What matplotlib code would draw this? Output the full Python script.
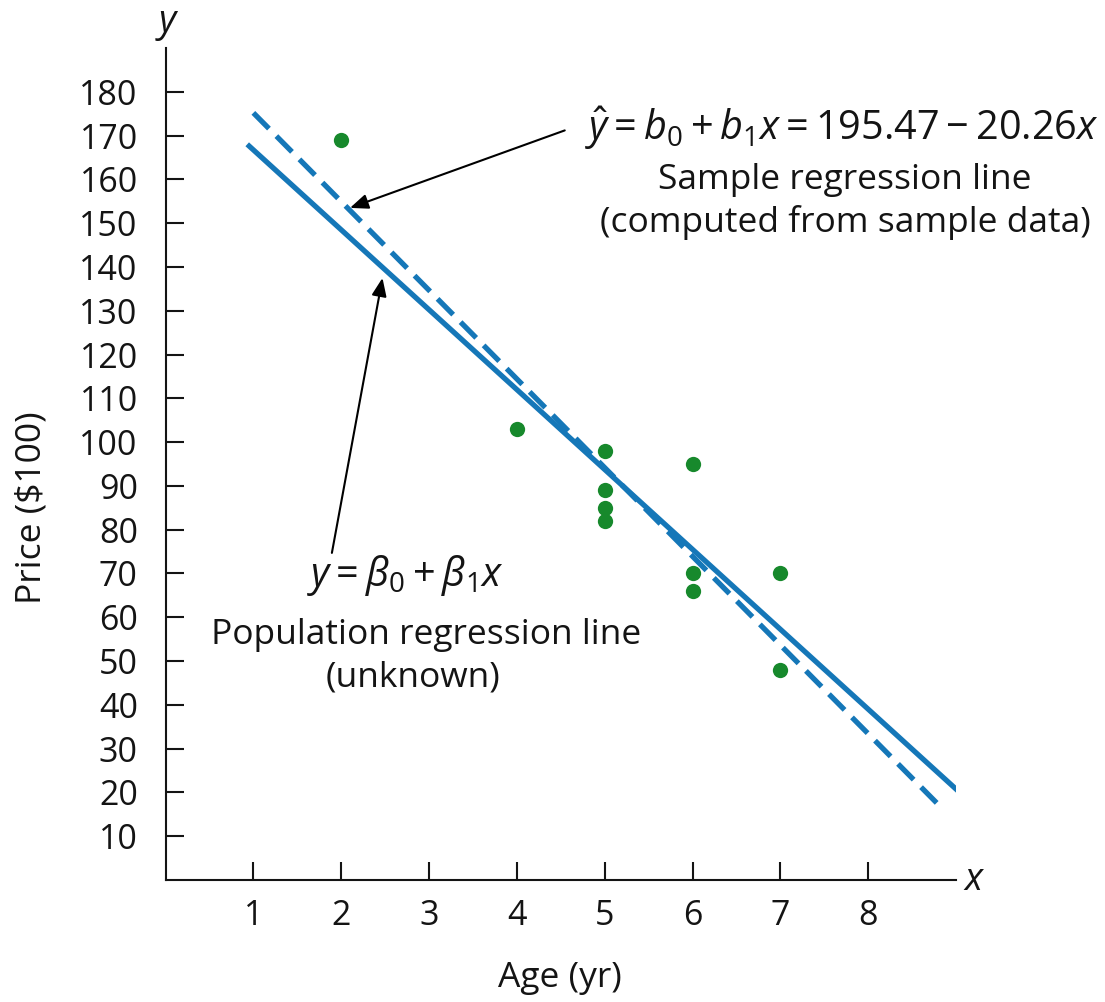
import numpy as np
import matplotlib
matplotlib.use('Agg')
import matplotlib.pyplot as plt

plt.rcParams['font.family'] = ['Open Sans', 'DejaVu Sans']
plt.rcParams['mathtext.fontset'] = 'custom'
plt.rcParams['mathtext.rm'] = 'Open Sans'
plt.rcParams['mathtext.it'] = 'Open Sans:italic'
plt.rcParams['mathtext.bf'] = 'Open Sans:bold'

# Age (yr) and price ($100) of the sampled cars
age = [5, 4, 6, 5, 5, 5, 6, 6, 2, 7, 7]
price = [85, 103, 70, 82, 89, 98, 66, 95, 169, 70, 48]

# Sample regression line (from the data) and an assumed population line
b0, b1 = 195.47, -20.26
beta0, beta1 = 185.0, -18.25
sample_range = [1.0, 8.8]
pop_range = [0.93, 9.03]

x_ticks = [1, 2, 3, 4, 5, 6, 7, 8]
y_ticks = list(range(10, 190, 10))

line_col = '#1577b8'
dot_col = '#17892c'
text_col = '#141414'

fig = plt.figure(figsize=(11.05, 10.02), dpi=100)
ax = fig.add_axes([0.1498, 0.1218, 0.7154, 0.8302])

xs = np.array(pop_range)
ax.plot(xs, beta0 + beta1 * xs, color=line_col, lw=3.8, solid_capstyle='butt', zorder=2)
xs = np.array(sample_range)
ax.plot(xs, b0 + b1 * xs, color=line_col, lw=3.8, dashes=(4.2, 2.0),
        dash_capstyle='butt', zorder=2)
ax.plot(age, price, 'o', color=dot_col, ms=11, mec='none', zorder=3)

ax.set_xlim(0, 9)
ax.set_ylim(0, 190)
ax.set_xticks(x_ticks)
ax.set_yticks(y_ticks)
ax.tick_params(direction='in', length=13, width=1.5, labelsize=24.5,
               colors=text_col)
ax.tick_params(axis='y', pad=20)
ax.tick_params(axis='x', pad=14)
for s in ['top', 'right']:
    ax.spines[s].set_visible(False)
for s in ['left', 'bottom']:
    ax.spines[s].set_linewidth(1.5)
    ax.spines[s].set_color(text_col)

fs = 25.5
fig.text(560 / 1105, 1 - 978 / 1002, 'Age (yr)', fontsize=fs,
         color=text_col, ha='center', va='center')
fig.text(32 / 1105, 1 - 508 / 1002, 'Price ($100)', rotation=90, fontsize=fs,
         color=text_col, ha='center', va='center')
fig.text(167 / 1105, 1 - 24 / 1002, '$y$', fontsize=27, color=text_col,
         ha='center', va='center')
fig.text(974 / 1105, 1 - 880 / 1002, '$x$', fontsize=27, color=text_col,
         ha='center', va='center')

# Labels for the two lines
fig.text(842 / 1105, 1 - 128 / 1002,
         r'$\hat{y} = b_0 + b_1x = 195.47 - 20.26x$',
         fontsize=28.5, color=text_col, ha='center', va='center')
fig.text(845 / 1105, 1 - 180 / 1002, 'Sample regression line',
         fontsize=fs, color=text_col, ha='center', va='center')
fig.text(845 / 1105, 1 - 222 / 1002, '(computed from sample data)',
         fontsize=fs, color=text_col, ha='center', va='center')
fig.text(405 / 1105, 1 - 575 / 1002, r'$y = \beta_0 + \beta_1x$',
         fontsize=28.5, color=text_col, ha='center', va='center')
fig.text(426 / 1105, 1 - 635 / 1002, 'Population regression line',
         fontsize=fs, color=text_col, ha='center', va='center')
fig.text(413 / 1105, 1 - 678 / 1002, '(unknown)',
         fontsize=fs, color=text_col, ha='center', va='center')

arrow = dict(arrowstyle='-|>,head_length=1.1,head_width=0.45', color='black',
             lw=1.5, shrinkA=0, shrinkB=0)
ax.annotate('', xy=(2.10, 153.5), xytext=(4.545, 171.2), arrowprops=arrow)
ax.annotate('', xy=(2.47, 137.5), xytext=(1.894, 74.7), arrowprops=arrow)

fig.savefig('out.png', dpi=100)
